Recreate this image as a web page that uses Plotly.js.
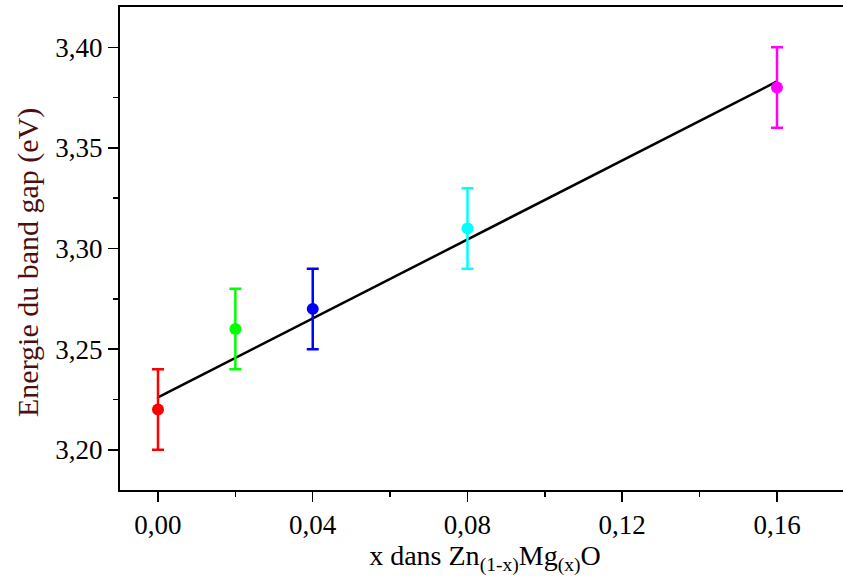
<!DOCTYPE html>
<html>
<head>
<meta charset="utf-8">
<script src="https://cdn.plot.ly/plotly-3.0.1.min.js"></script>
<style>
html,body{margin:0;padding:0;overflow:hidden;background:#fff;}
#chart .xtick text, #chart .ytick text { font-family: 'Liberation Serif', serif !important; }
</style>
</head>
<body>
<div id="chart"></div>
<script>
// Data
const xValues = [0.00, 0.02, 0.04, 0.08, 0.16];
const yValues = [3.22, 3.26, 3.27, 3.31, 3.38];
const yErrors = [0.02, 0.02, 0.02, 0.02, 0.02];
const pointColors = ['#ff0000', '#00ff00', '#0000ff', '#00ffff', '#ff00ff'];
const fitX = [0.00, 0.16];
const fitY = [3.226, 3.383];
const xTickVals = [0.00, 0.04, 0.08, 0.12, 0.16];
const xTickText = ['0,00', '0,04', '0,08', '0,12', '0,16'];
const yTickVals = [3.20, 3.25, 3.30, 3.35, 3.40];
const yTickText = ['3,20', '3,25', '3,30', '3,35', '3,40'];
const xTitle = 'x dans Zn<sub>(1-x)</sub>Mg<sub>(x)</sub>O';
const yTitle = 'Energie du band gap (eV)';

const traces = [];
traces.push({
  x: fitX, y: fitY, type: 'scatter', mode: 'lines',
  line: {color: '#000000', width: 2.5}, showlegend: false, hoverinfo: 'skip'
});
for (let i = 0; i < xValues.length; i++) {
  traces.push({
    x: [xValues[i]], y: [yValues[i]], type: 'scatter', mode: 'markers',
    marker: {color: pointColors[i], size: 12},
    error_y: {type: 'data', array: [yErrors[i]], visible: true,
              color: pointColors[i], thickness: 2.5, width: 6},
    showlegend: false
  });
}

const FAM = 'Liberation Serif';
function f(size, color) { return {family: FAM, size: size, color: color || '#000000'}; }

const layout = {
  width: 860, height: 583,
  margin: {l: 120, r: 10, t: 7, b: 93},
  paper_bgcolor: '#ffffff', plot_bgcolor: '#ffffff',
  font: f(26),
  showlegend: false,
  xaxis: {
    range: [-0.00982, 0.17887],
    tickmode: 'array', tickvals: xTickVals, ticktext: xTickText,
    ticks: 'outside', ticklen: 10, tickwidth: 1.5, tickcolor: '#000',
    minor: {dtick: 0.02, tick0: 0, ticks: 'outside', ticklen: 5, tickwidth: 1.5, tickcolor: '#000', showgrid: false},
    showline: true, linecolor: '#000', linewidth: 2, mirror: true,
    showgrid: false, zeroline: false,
    tickfont: f(27),
    title: {text: xTitle, font: f(28), standoff: 6}
  },
  yaxis: {
    range: [3.18, 3.42],
    tickmode: 'array', tickvals: yTickVals, ticktext: yTickText,
    ticks: 'outside', ticklen: 10, tickwidth: 1.5, tickcolor: '#000',
    minor: {dtick: 0.025, tick0: 3.2, ticks: 'outside', ticklen: 5, tickwidth: 1.5, tickcolor: '#000', showgrid: false},
    showline: true, linecolor: '#000', linewidth: 2, mirror: true,
    showgrid: false, zeroline: false,
    tickfont: f(27)
  },
  annotations: [{
    text: yTitle, textangle: -90, showarrow: false,
    xref: 'paper', yref: 'paper', x: -0.126, y: 0.47,
    xanchor: 'center', yanchor: 'middle',
    font: f(30, '#4d1010')
  }]
};

Plotly.newPlot('chart', traces, layout, {displayModeBar: false, staticPlot: true});
</script>
</body>
</html>
